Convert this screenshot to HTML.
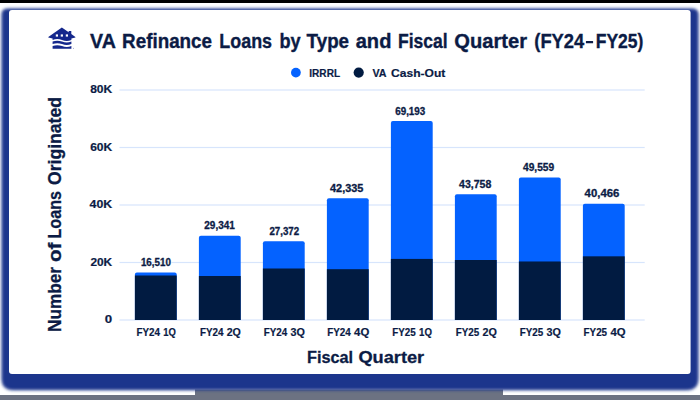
<!DOCTYPE html>
<html><head><meta charset="utf-8"><title>VA Refinance Loans</title>
<style>
html,body{margin:0;padding:0;background:#fff;}
body{width:700px;height:400px;overflow:hidden;position:relative;font-family:"Liberation Sans",sans-serif;}
svg{position:absolute;left:0;top:0;}
text{font-family:"Liberation Sans",sans-serif;font-weight:bold;fill:#0b1b45;}
</style></head><body>
<svg width="700" height="400" viewBox="0 0 700 400">
<defs>
<filter id="sh" x="-10%" y="-10%" width="120%" height="130%"><feGaussianBlur stdDeviation="1.8"/></filter>
</defs>
<rect x="0" y="0" width="700" height="400" fill="#ffffff"/>
<rect x="0" y="395" width="700" height="5" fill="#6c7282"/>
<rect x="195" y="389.5" width="308" height="8" fill="#6c7282"/>
<rect x="0" y="0" width="700" height="3" fill="#000000"/>
<path d="M7.5 8.4 H692.5 Q698.5 8.4 698.5 14.4 V378.2 Q698.5 390.2 686.5 390.2 H13.5 Q1.5 390.2 1.5 378.2 V14.4 Q1.5 8.4 7.5 8.4 Z" fill="#1d358c" filter="url(#sh)"/>
<rect x="9" y="10" width="681.6" height="364" rx="3" fill="#ffffff"/>
<g id="icon" fill="#15288c">
<path d="M61.85 27.6 L68.7 32.3 V31 H71.3 V34.1 L75.4 36.9 V37.6 L71.4 38.4 V40.0 q-4.7 1.8 -9.4 0 t-9.4 0 V38.4 L48.3 37.6 V36.9 Z"/>
<rect x="55.8" y="34.4" width="2.2" height="2.2" fill="#fff"/>
<rect x="60.75" y="34.4" width="2.2" height="2.2" fill="#fff"/>
<rect x="65.8" y="34.4" width="2.2" height="2.2" fill="#fff"/>
<path d="M52.6 41.6 q4.7 -1.8 9.4 0 t9.4 0 v2.5 q-4.7 1.8 -9.4 0 t-9.4 0 Z"/>
<path d="M52.6 46.1 q4.7 -1.8 9.4 0 t9.4 0 v2.75 h-18.8 Z"/>
<circle cx="73.4" cy="48.3" r="0.45" opacity="0.7"/>
</g>
<text transform="translate(90.100,47.50) scale(0.9909,1)" font-size="19.80" stroke="#0b1b45" stroke-width="0.35">VA</text>
<text transform="translate(122.100,47.50) scale(0.9511,1)" font-size="19.80" stroke="#0b1b45" stroke-width="0.35">Refinance</text>
<text transform="translate(219.300,47.50) scale(0.9055,1)" font-size="19.80" stroke="#0b1b45" stroke-width="0.35">Loans</text>
<text transform="translate(279.400,47.50) scale(0.9175,1)" font-size="19.80" stroke="#0b1b45" stroke-width="0.35">by</text>
<text transform="translate(306.600,47.50) scale(0.9498,1)" font-size="19.80" stroke="#0b1b45" stroke-width="0.35">Type</text>
<text transform="translate(355.700,47.50) scale(1.0141,1)" font-size="19.80" stroke="#0b1b45" stroke-width="0.35">and</text>
<text transform="translate(398.000,47.50) scale(0.8854,1)" font-size="19.80" stroke="#0b1b45" stroke-width="0.35">Fiscal</text>
<text transform="translate(454.300,47.50) scale(1.0179,1)" font-size="19.80" stroke="#0b1b45" stroke-width="0.35">Quarter</text>
<text transform="translate(534.300,47.50) scale(0.9274,1)" font-size="19.80" stroke="#0b1b45" stroke-width="0.35">(FY24</text>
<text transform="translate(595.700,47.50) scale(0.8847,1)" font-size="19.80" stroke="#0b1b45" stroke-width="0.35">FY25)</text>
<rect x="585.9" y="40.9" width="7.2" height="2.4" rx="0.4" fill="#0b1b45"/>
<circle cx="295.9" cy="72.6" r="4.9" fill="#0462ff"/>
<text transform="translate(309.300,76.60) scale(0.8844,1)" font-size="11.40" stroke="#0b1b45" stroke-width="0.20">IRRRL</text>
<circle cx="358.7" cy="72.6" r="5.1" fill="#011b41"/>
<text transform="translate(372.400,76.60) scale(0.9406,1)" font-size="11.40" stroke="#0b1b45" stroke-width="0.20">VA</text>
<text transform="translate(391.100,76.60) scale(1.0565,1)" font-size="11.40" stroke="#0b1b45" stroke-width="0.20">Cash-Out</text>
<rect x="119.5" y="319.40" width="525.2" height="1.2" fill="#d7e5fc"/>
<text x="112.2" y="323.40" font-size="11.3" text-anchor="end" textLength="7.4" lengthAdjust="spacingAndGlyphs" stroke="#0b1b45" stroke-width="0.2">0</text>
<rect x="119.5" y="261.90" width="525.2" height="1.2" fill="#d7e5fc"/>
<text x="112.2" y="265.90" font-size="11.3" text-anchor="end" textLength="21.8" lengthAdjust="spacingAndGlyphs" stroke="#0b1b45" stroke-width="0.2">20K</text>
<rect x="119.5" y="204.40" width="525.2" height="1.2" fill="#d7e5fc"/>
<text x="112.2" y="208.40" font-size="11.3" text-anchor="end" textLength="22.6" lengthAdjust="spacingAndGlyphs" stroke="#0b1b45" stroke-width="0.2">40K</text>
<rect x="119.5" y="146.90" width="525.2" height="1.2" fill="#d7e5fc"/>
<text x="112.2" y="150.90" font-size="11.3" text-anchor="end" textLength="22.0" lengthAdjust="spacingAndGlyphs" stroke="#0b1b45" stroke-width="0.2">60K</text>
<rect x="119.5" y="89.40" width="525.2" height="1.2" fill="#d7e5fc"/>
<text x="112.2" y="93.40" font-size="11.3" text-anchor="end" textLength="22.0" lengthAdjust="spacingAndGlyphs" stroke="#0b1b45" stroke-width="0.2">80K</text>
<text transform="translate(61.00,332.40) rotate(-90) translate(0.500,0) scale(0.9350,1)" font-size="18.40" stroke="#0b1b45" stroke-width="0.30">Number</text>
<text transform="translate(61.00,332.40) rotate(-90) translate(70.400,0) scale(1.1203,1)" font-size="18.40" stroke="#0b1b45" stroke-width="0.30">of</text>
<text transform="translate(61.00,332.40) rotate(-90) translate(93.900,0) scale(0.8766,1)" font-size="18.40" stroke="#0b1b45" stroke-width="0.30">Loans</text>
<text transform="translate(61.00,332.40) rotate(-90) translate(147.400,0) scale(0.9563,1)" font-size="18.40" stroke="#0b1b45" stroke-width="0.30">Originated</text>
<path d="M134.90 320.00 V274.53 Q134.90 272.53 136.90 272.53 H174.70 Q176.70 272.53 176.70 274.53 V320.00 Z" fill="#0462ff"/>
<rect x="134.90" y="275.50" width="41.80" height="44.50" fill="#011b41"/>
<text transform="translate(140.900,266.23) scale(0.9252,1)" font-size="10.60" stroke="#fff" stroke-width="1.4" stroke-linejoin="round" fill="#fff">16,510</text>
<text transform="translate(140.900,266.23) scale(0.9252,1)" font-size="10.60" stroke="#0b1b45" stroke-width="0.30">16,510</text>
<text transform="translate(136.400,336.00) scale(0.8939,1)" font-size="11.00" stroke="#0b1b45" stroke-width="0.20">FY24</text>
<text transform="translate(163.200,336.00) scale(0.8587,1)" font-size="11.00" stroke="#0b1b45" stroke-width="0.20">1Q</text>
<path d="M198.90 320.00 V237.64 Q198.90 235.64 200.90 235.64 H238.70 Q240.70 235.64 240.70 237.64 V320.00 Z" fill="#0462ff"/>
<rect x="198.90" y="276.00" width="41.80" height="44.00" fill="#011b41"/>
<text transform="translate(204.300,229.34) scale(0.9437,1)" font-size="10.60" stroke="#fff" stroke-width="1.4" stroke-linejoin="round" fill="#fff">29,341</text>
<text transform="translate(204.300,229.34) scale(0.9437,1)" font-size="10.60" stroke="#0b1b45" stroke-width="0.30">29,341</text>
<text transform="translate(199.900,336.00) scale(0.8939,1)" font-size="11.00" stroke="#0b1b45" stroke-width="0.20">FY24</text>
<text transform="translate(226.700,336.00) scale(0.9677,1)" font-size="11.00" stroke="#0b1b45" stroke-width="0.20">2Q</text>
<path d="M262.90 320.00 V243.31 Q262.90 241.31 264.90 241.31 H302.70 Q304.70 241.31 304.70 243.31 V320.00 Z" fill="#0462ff"/>
<rect x="262.90" y="268.50" width="41.80" height="51.50" fill="#011b41"/>
<text transform="translate(269.400,235.01) scale(0.9159,1)" font-size="10.60" stroke="#fff" stroke-width="1.4" stroke-linejoin="round" fill="#fff">27,372</text>
<text transform="translate(269.400,235.01) scale(0.9159,1)" font-size="10.60" stroke="#0b1b45" stroke-width="0.30">27,372</text>
<text transform="translate(263.800,336.00) scale(0.8939,1)" font-size="11.00" stroke="#0b1b45" stroke-width="0.20">FY24</text>
<text transform="translate(290.600,336.00) scale(0.9813,1)" font-size="11.00" stroke="#0b1b45" stroke-width="0.20">3Q</text>
<path d="M326.90 320.00 V200.29 Q326.90 198.29 328.90 198.29 H366.70 Q368.70 198.29 368.70 200.29 V320.00 Z" fill="#0462ff"/>
<rect x="326.90" y="269.20" width="41.80" height="50.80" fill="#011b41"/>
<text transform="translate(330.000,191.99) scale(1.0301,1)" font-size="10.60" stroke="#fff" stroke-width="1.4" stroke-linejoin="round" fill="#fff">42,335</text>
<text transform="translate(330.000,191.99) scale(1.0301,1)" font-size="10.60" stroke="#0b1b45" stroke-width="0.30">42,335</text>
<text transform="translate(327.300,336.00) scale(0.8939,1)" font-size="11.00" stroke="#0b1b45" stroke-width="0.20">FY24</text>
<text transform="translate(354.100,336.00) scale(1.0358,1)" font-size="11.00" stroke="#0b1b45" stroke-width="0.20">4Q</text>
<path d="M390.90 320.00 V123.07 Q390.90 121.07 392.90 121.07 H430.70 Q432.70 121.07 432.70 123.07 V320.00 Z" fill="#0462ff"/>
<rect x="390.90" y="258.91" width="41.80" height="61.09" fill="#011b41"/>
<text transform="translate(395.200,114.77) scale(0.9283,1)" font-size="10.60" stroke="#fff" stroke-width="1.4" stroke-linejoin="round" fill="#fff">69,193</text>
<text transform="translate(395.200,114.77) scale(0.9283,1)" font-size="10.60" stroke="#0b1b45" stroke-width="0.30">69,193</text>
<text transform="translate(392.300,336.00) scale(0.8939,1)" font-size="11.00" stroke="#0b1b45" stroke-width="0.20">FY25</text>
<text transform="translate(419.100,336.00) scale(0.8791,1)" font-size="11.00" stroke="#0b1b45" stroke-width="0.20">1Q</text>
<path d="M454.90 320.00 V196.20 Q454.90 194.20 456.90 194.20 H494.70 Q496.70 194.20 496.70 196.20 V320.00 Z" fill="#0462ff"/>
<rect x="454.90" y="260.00" width="41.80" height="60.00" fill="#011b41"/>
<text transform="translate(459.100,187.90) scale(0.9961,1)" font-size="10.60" stroke="#fff" stroke-width="1.4" stroke-linejoin="round" fill="#fff">43,758</text>
<text transform="translate(459.100,187.90) scale(0.9961,1)" font-size="10.60" stroke="#0b1b45" stroke-width="0.30">43,758</text>
<text transform="translate(455.800,336.00) scale(0.8939,1)" font-size="11.00" stroke="#0b1b45" stroke-width="0.20">FY25</text>
<text transform="translate(482.600,336.00) scale(0.9813,1)" font-size="11.00" stroke="#0b1b45" stroke-width="0.20">2Q</text>
<path d="M518.90 320.00 V179.52 Q518.90 177.52 520.90 177.52 H558.70 Q560.70 177.52 560.70 179.52 V320.00 Z" fill="#0462ff"/>
<rect x="518.90" y="261.49" width="41.80" height="58.51" fill="#011b41"/>
<text transform="translate(523.000,171.22) scale(0.9622,1)" font-size="10.60" stroke="#fff" stroke-width="1.4" stroke-linejoin="round" fill="#fff">49,559</text>
<text transform="translate(523.000,171.22) scale(0.9622,1)" font-size="10.60" stroke="#0b1b45" stroke-width="0.30">49,559</text>
<text transform="translate(519.700,336.00) scale(0.8939,1)" font-size="11.00" stroke="#0b1b45" stroke-width="0.20">FY25</text>
<text transform="translate(546.500,336.00) scale(0.9813,1)" font-size="11.00" stroke="#0b1b45" stroke-width="0.20">3Q</text>
<path d="M582.90 320.00 V205.66 Q582.90 203.66 584.90 203.66 H622.70 Q624.70 203.66 624.70 205.66 V320.00 Z" fill="#0462ff"/>
<rect x="582.90" y="256.32" width="41.80" height="63.68" fill="#011b41"/>
<text transform="translate(584.600,197.36) scale(1.0732,1)" font-size="10.60" stroke="#fff" stroke-width="1.4" stroke-linejoin="round" fill="#fff">40,466</text>
<text transform="translate(584.600,197.36) scale(1.0732,1)" font-size="10.60" stroke="#0b1b45" stroke-width="0.30">40,466</text>
<text transform="translate(583.600,336.00) scale(0.8939,1)" font-size="11.00" stroke="#0b1b45" stroke-width="0.20">FY25</text>
<text transform="translate(610.400,336.00) scale(1.0290,1)" font-size="11.00" stroke="#0b1b45" stroke-width="0.20">4Q</text>
<text transform="translate(307.000,362.70) scale(0.9434,1)" font-size="17.20" stroke="#0b1b45" stroke-width="0.30">Fiscal</text>
<text transform="translate(358.400,362.70) scale(1.0591,1)" font-size="17.20" stroke="#0b1b45" stroke-width="0.30">Quarter</text>
</svg>
</body></html>
